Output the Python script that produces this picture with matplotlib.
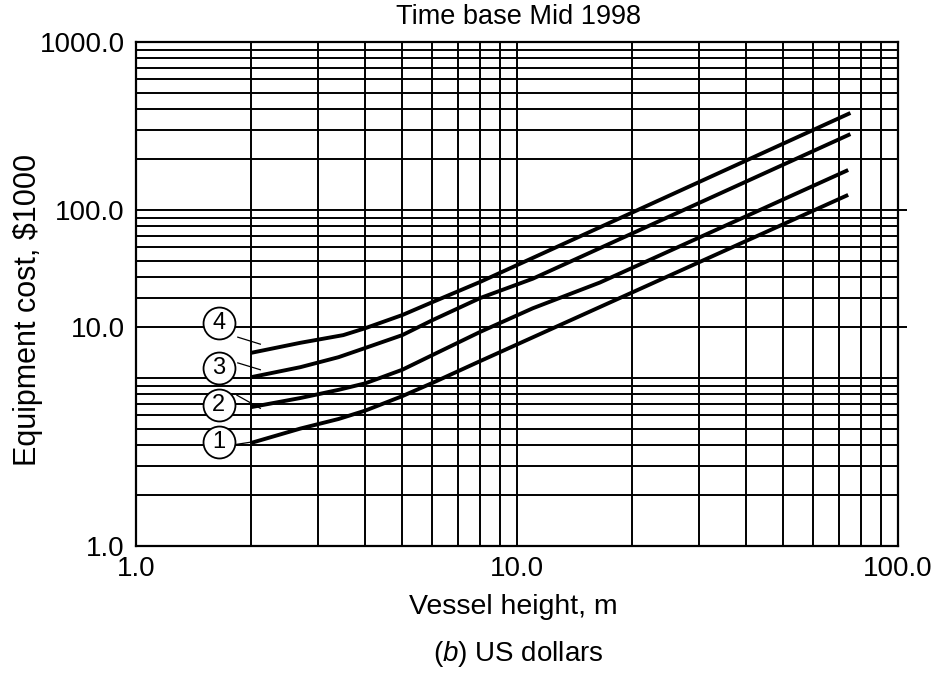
import matplotlib
matplotlib.use("Agg")
import matplotlib.pyplot as plt
from matplotlib.ticker import LogLocator, NullFormatter, FixedLocator
import numpy as np

plt.rcParams['font.family'] = ['Liberation Sans', 'DejaVu Sans']
plt.rcParams['mathtext.fontset'] = 'custom'
plt.rcParams['mathtext.it'] = 'Liberation Sans:italic'
plt.rcParams['mathtext.rm'] = 'Liberation Sans'

# vessel height (m) vs equipment cost
h1 = [2.0, 2.7, 3.4, 4.0, 5.0, 6.0, 8.0, 74.0]
c1 = [4.1, 5.0, 5.7, 6.4, 7.8, 9.35, 12.6, 123.0]

h2 = [2.0, 2.7, 3.4, 4.0, 5.0, 6.0, 8.0, 11.0, 16.5, 74.0]
c2 = [6.7, 7.6, 8.5, 9.3, 11.2, 13.7, 18.8, 26.0, 37.0, 173.0]

h3 = [2.0, 2.7, 3.4, 4.0, 5.0, 6.0, 8.0, 11.0, 75.0]
c3 = [10.1, 11.6, 13.3, 15.1, 18.0, 22.1, 29.9, 39.0, 283.0]

h4 = [2.0, 2.7, 3.5, 4.0, 5.0, 6.0, 8.0, 75.0]
c4 = [14.1, 16.2, 18.0, 19.8, 23.7, 28.3, 37.3, 378.0]

curves = [(h1, c1), (h2, c2), (h3, c3), (h4, c4)]
curve_names = ["1", "2", "3", "4"]

# circled curve numbers and their leader lines
tag_x = 1.65
tag_y = [4.16, 6.9, 11.5, 21.2]
leader_from = [(1.80, 4.0), (1.84, 7.9), (1.85, 12.3), (1.85, 17.5)]
leader_to = [(2.0, 4.15), (2.12, 6.6), (2.12, 11.2), (2.12, 15.9)]

x_ticks = [1, 10, 100]
x_ticklabels = ["1.0", "10.0", "100.0"]
y_ticks = [1, 20, 100, 1000]
y_ticklabels = ["1.0", "10.0", "100.0", "1000.0"]
y_extended = [20, 100]

fig = plt.figure(figsize=(9.4, 6.75), dpi=100)
ax = fig.add_axes([136 / 940, 1 - 546 / 675, (898 - 136) / 940, (546 - 42) / 675])

ax.set_xscale("log")
ax.set_yscale("log")
ax.set_xlim(1, 100)
ax.set_ylim(1, 1000)

# full log grid, major and minor
ax.xaxis.set_minor_locator(LogLocator(base=10, subs=np.arange(2, 10)))
ax.xaxis.set_minor_formatter(NullFormatter())
ax.yaxis.set_minor_formatter(NullFormatter())
ax.grid(which="both", color="black", linewidth=1.4)
ax.set_axisbelow(True)

ax.xaxis.set_major_locator(FixedLocator(x_ticks))
ax.set_xticklabels(x_ticklabels)
ax.set_yticks(y_ticks)
ax.set_yticklabels(y_ticklabels)
ax.yaxis.set_minor_locator(LogLocator(base=10, subs=np.arange(1, 10)))
ax.tick_params(which="both", length=0, labelsize=20, colors="black")
ax.tick_params(axis="y", pad=8)
ax.tick_params(axis="x", pad=7)

for s in ax.spines.values():
    s.set_linewidth(1.6)
    s.set_color("black")

# some grid lines run past the right edge
ax.hlines(y_extended, 1.0, 1.012, transform=ax.get_yaxis_transform(),
          color="black", linewidth=1.4, clip_on=False)

for (h, c) in curves:
    ax.plot(h, c, color="black", linewidth=2.8, solid_capstyle="butt",
            solid_joinstyle="round", zorder=3)

for (p0, p1) in zip(leader_from, leader_to):
    ax.plot([p0[0], p1[0]], [p0[1], p1[1]], color="black", linewidth=0.9, zorder=3)

for name, ty in zip(curve_names, tag_y):
    ax.plot([tag_x], [ty], marker="o", markersize=23, markerfacecolor="white",
            markeredgecolor="black", markeredgewidth=1.3, clip_on=False, zorder=4)
    ax.text(tag_x, ty, name, ha="center", va="center", fontsize=17, zorder=5)

fig.text(518 / 940, 1 - 17 / 675, "Time base Mid 1998", ha="center", va="center", fontsize=19.5)
fig.text(28 / 940, 1 - 310 / 675, "Equipment cost, $1000", rotation=90,
         ha="center", va="center", fontsize=22)
fig.text(513 / 940, 1 - 607 / 675, "Vessel height, m", ha="center", va="center", fontsize=20.5)
fig.text(518 / 940, 1 - 654 / 675, r"($\it{b}$) US dollars", ha="center", va="center", fontsize=20)

fig.savefig("out.png", dpi=100)
